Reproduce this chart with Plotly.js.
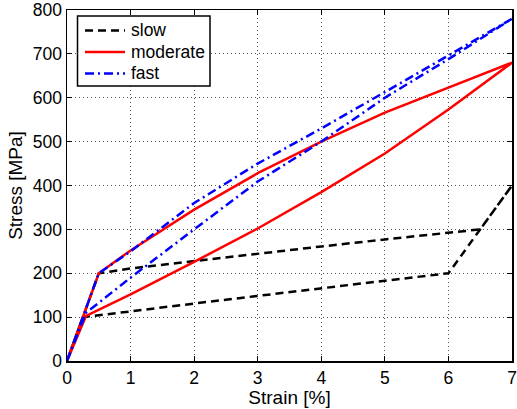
<!DOCTYPE html>
<html>
<head>
<meta charset="utf-8">
<script src="https://cdn.plot.ly/plotly-3.0.1.min.js"></script>
<style>html,body{margin:0;padding:0;background:#fff}#chart{width:517px;height:409px}</style>
</head>
<body>
<div id="chart"></div>
<script>
// slow: loading then unloading
const slowStrain = [0, 0.25, 0.5, 1, 2, 3, 4, 5, 6, 6.5, 7, 6, 5, 4, 3, 2, 1, 0.25, 0];
const slowStress = [0, 100, 200, 211, 228, 245, 261, 277, 293, 300, 400, 200, 183, 166, 149, 131, 113, 100, 0];
// moderate
const modStrain = [0, 0.25, 0.5, 1, 2, 3, 4, 5, 6, 7, 6, 5, 4, 3, 2, 1, 0.3, 0];
const modStress = [0, 100, 200, 252, 345, 428, 500, 566, 623, 680, 573, 473, 385, 302, 226, 152, 103, 0];
// fast
const fastStrain = [0, 0.25, 0.5, 1, 2, 3, 4, 5, 6, 7, 6, 5, 4, 3, 2, 1, 0.3, 0];
const fastStress = [0, 100, 200, 250, 360, 450, 530, 613, 697, 780, 688, 600, 500, 409, 300, 190, 110, 0];

const xTicks = [0, 1, 2, 3, 4, 5, 6, 7];
const yTicks = [0, 100, 200, 300, 400, 500, 600, 700, 800];
const seriesNames = ['slow', 'moderate', 'fast'];
const seriesColors = ['#000000', '#ff0000', '#0000ff'];
const seriesDash = ['8px,5px', 'solid', '9px,4px,2px,4px'];

const fam = '"Liberation Sans", Arial, Helvetica, sans-serif';
const tickFont = {family: fam, size: 17.5, color: '#000'};
const titleFont = {family: fam, size: 19, color: '#000'};
const legFont = {family: fam, size: 17.5, color: '#000'};

const xs = [slowStrain, modStrain, fastStrain];
const ys = [slowStress, modStress, fastStress];
const traces = seriesNames.map((n, i) => ({
  x: xs[i], y: ys[i], name: n, mode: 'lines', showlegend: false,
  line: {color: seriesColors[i], width: 2.5, dash: seriesDash[i]}
}));

// manual legend box (MATLAB style) in paper coordinates
const L = 67, R = 512, T = 10, B = 361;
const px = v => (v - L) / (R - L);
const py = v => (B - v) / (B - T);
const shapes = [{type: 'rect', xref: 'paper', yref: 'paper',
  x0: px(77.5), x1: px(210), y0: py(86), y1: py(16),
  line: {color: '#000', width: 1.5}, fillcolor: '#fff', layer: 'above'}];
const annotations = [];
const rowY = [30.5, 52, 73.5];
seriesNames.forEach((n, i) => {
  shapes.push({type: 'line', xref: 'paper', yref: 'paper',
    x0: px(85), x1: px(125), y0: py(rowY[i]), y1: py(rowY[i]),
    line: {color: seriesColors[i], width: 2.5, dash: seriesDash[i]}, layer: 'above'});
  annotations.push({xref: 'paper', yref: 'paper', x: px(128.5), y: py(rowY[i]),
    xanchor: 'left', yanchor: 'middle', text: n, showarrow: false, font: legFont});
});

const axisCommon = {
  showline: true, linecolor: '#000', linewidth: 1.5, mirror: 'ticks',
  ticks: 'inside', ticklen: 5, tickwidth: 1, tickcolor: '#000',
  showgrid: true, gridcolor: '#555', griddash: '1px,3px', gridwidth: 1,
  zeroline: false, tickfont: tickFont, ticklabeloverflow: 'allow'
};

const layout = {
  width: 517, height: 409,
  margin: {l: L, r: 517 - R, t: T, b: 409 - B},
  paper_bgcolor: '#fff', plot_bgcolor: '#fff',
  font: tickFont,
  showlegend: false,
  shapes: shapes, annotations: annotations,
  xaxis: Object.assign({}, axisCommon, {range: [0, 7], tickvals: xTicks,
    title: {text: 'Strain [%]', font: titleFont, standoff: 3}}),
  yaxis: Object.assign({}, axisCommon, {range: [0, 800], tickvals: yTicks,
    title: {text: 'Stress [MPa]', font: titleFont, standoff: 5}})
};

Plotly.newPlot('chart', traces, layout, {displayModeBar: false, staticPlot: true});
</script>
</body>
</html>
